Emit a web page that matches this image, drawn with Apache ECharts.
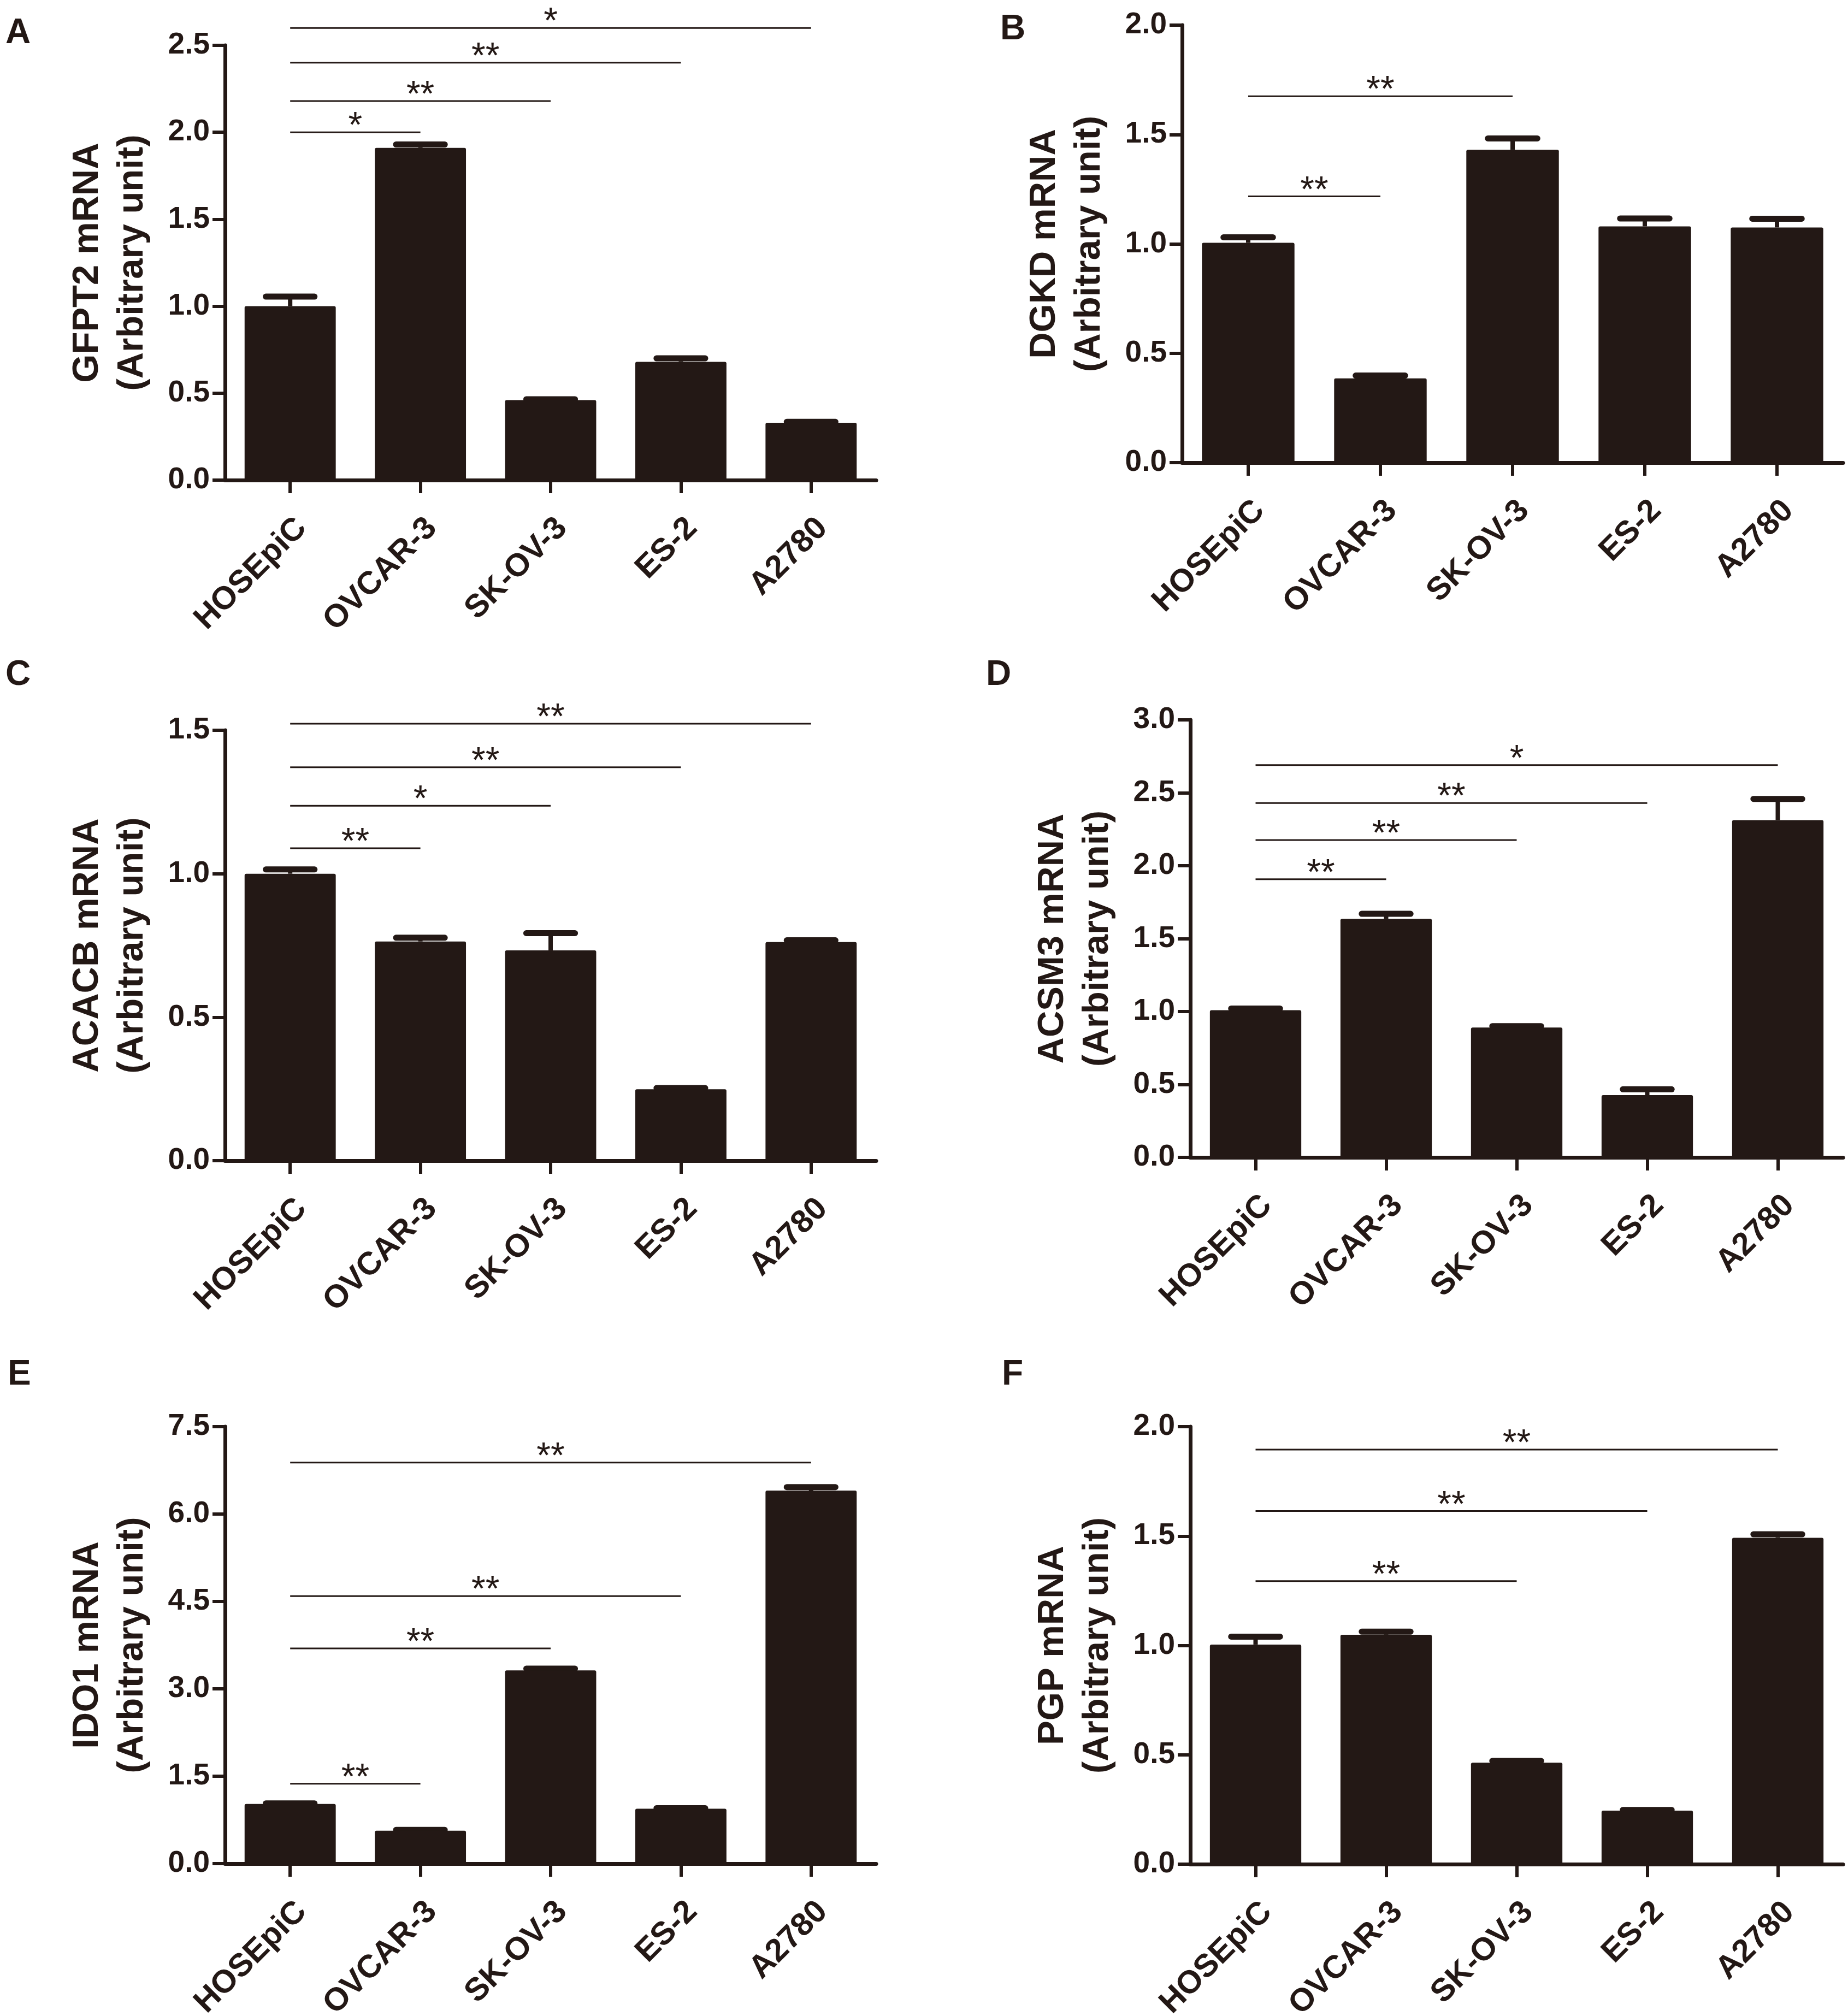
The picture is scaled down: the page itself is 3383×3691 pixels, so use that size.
<!DOCTYPE html>
<html>
<head>
<meta charset="utf-8">
<title>mRNA levels in ovarian cell lines</title>
<script src="https://cdn.jsdelivr.net/npm/echarts@6.0.0/dist/echarts.min.js"></script>
<style>
  html, body { margin: 0; padding: 0; background: #fff; }
  #chart { width: 3383px; height: 3691px; }
</style>
</head>
<body>
<div id="chart"></div>
<script>
var categories = ['HOSEpiC', 'OVCAR-3', 'SK-OV-3', 'ES-2', 'A2780'];

// A - GFPT2
var gfpt2Mean = [1.00, 1.91, 0.46, 0.68, 0.33];
var gfpt2Sem = [0.055, 0.02, 0.005, 0.02, 0.005];
var gfpt2Sig = [[0, 1, 2.00, '*'], [0, 2, 2.18, '**'], [0, 3, 2.40, '**'], [0, 4, 2.60, '*']];
var gfpt2Axis = [0, 2.5, 0.5];

// B - DGKD
var dgkdMean = [1.005, 0.385, 1.43, 1.08, 1.075];
var dgkdSem = [0.025, 0.013, 0.052, 0.036, 0.04];
var dgkdSig = [[0, 1, 1.217, '**'], [0, 2, 1.675, '**']];
var dgkdAxis = [0, 2.0, 0.5];

// C - ACACB
var acacbMean = [1.00, 0.764, 0.733, 0.249, 0.762];
var acacbSem = [0.015, 0.013, 0.06, 0.004, 0.006];
var acacbSig = [[0, 1, 1.089, '**'], [0, 2, 1.237, '*'], [0, 3, 1.371, '**'], [0, 4, 1.523, '**']];
var acacbAxis = [0, 1.5, 0.5];

// D - ACSM3
var acsm3Mean = [1.009, 1.636, 0.89, 0.427, 2.313];
var acsm3Sem = [0.012, 0.034, 0.01, 0.04, 0.145];
var acsm3Sig = [[0, 1, 1.907, '**'], [0, 2, 2.176, '**'], [0, 3, 2.43, '**'], [0, 4, 2.69, '*']];
var acsm3Axis = [0, 3.0, 0.5];

// E - IDO1
var ido1Mean = [1.024, 0.564, 3.316, 0.942, 6.402];
var ido1Sem = [0.01, 0.015, 0.03, 0.01, 0.06];
var ido1Sig = [[0, 1, 1.372, '**'], [0, 2, 3.694, '**'], [0, 3, 4.592, '**'], [0, 4, 6.884, '**']];
var ido1Axis = [0, 7.5, 1.5];

// F - PGP
var pgpMean = [1.004, 1.049, 0.464, 0.245, 1.492];
var pgpSem = [0.036, 0.014, 0.008, 0.003, 0.016];
var pgpSig = [[0, 2, 1.294, '**'], [0, 3, 1.614, '**'], [0, 4, 1.895, '**']];
var pgpAxis = [0, 2.0, 0.5];

var panels = [
  { letter: 'A', gene: 'GFPT2', mean: gfpt2Mean, sem: gfpt2Sem, sig: gfpt2Sig, axis: gfpt2Axis },
  { letter: 'B', gene: 'DGKD', mean: dgkdMean, sem: dgkdSem, sig: dgkdSig, axis: dgkdAxis },
  { letter: 'C', gene: 'ACACB', mean: acacbMean, sem: acacbSem, sig: acacbSig, axis: acacbAxis },
  { letter: 'D', gene: 'ACSM3', mean: acsm3Mean, sem: acsm3Sem, sig: acsm3Sig, axis: acsm3Axis },
  { letter: 'E', gene: 'IDO1', mean: ido1Mean, sem: ido1Sem, sig: ido1Sig, axis: ido1Axis },
  { letter: 'F', gene: 'PGP', mean: pgpMean, sem: pgpSem, sig: pgpSig, axis: pgpAxis }
];

// page layout of each panel (pixels)
var layouts = [
  { lx: 10, ly: 29, left: 412, top: 83, width: 1192, height: 796 },
  { lx: 1831, ly: 22, left: 2164, top: 46, width: 1210, height: 801 },
  { lx: 10, ly: 1204, left: 412, top: 1337, width: 1192, height: 788 },
  { lx: 1805, ly: 1204, left: 2179, top: 1318, width: 1195, height: 801 },
  { lx: 14, ly: 2485, left: 412, top: 2612, width: 1192, height: 800 },
  { lx: 1834, ly: 2485, left: 2179, top: 2612, width: 1195, height: 801 }
];

var ink = '#231815';
var font = "'Liberation Sans', Arial, Helvetica, sans-serif";

var chart = echarts.init(document.getElementById('chart'));

var titles = [], grids = [], xAxes = [], yAxes = [], series = [];

panels.forEach(function (p, i) {
  var l = layouts[i];
  titles.push({
    text: p.letter, left: l.lx, top: l.ly, padding: 0,
    textStyle: { fontSize: 64, fontWeight: 'bold', fontFamily: font, color: ink }
  });
  grids.push({ left: l.left, top: l.top, width: l.width, height: l.height, outerBoundsMode: 'none' });
  xAxes.push({
    type: 'category', gridIndex: i, data: categories,
    axisLine: { show: true, lineStyle: { color: ink, width: 7 } },
    axisTick: { show: true, alignWithLabel: true, length: 24, lineStyle: { color: ink, width: 6 } },
    axisLabel: {
      interval: 0, rotate: 45, margin: 58, verticalAlign: 'top',
      fontSize: 59, fontWeight: 'bold', fontFamily: font, color: ink
    },
    splitLine: { show: false }
  });
  yAxes.push({
    type: 'value', gridIndex: i, min: p.axis[0], max: p.axis[1], interval: p.axis[2],
    name: p.gene + ' mRNA\n(Arbitrary unit)', nameLocation: 'middle', nameRotate: 90, nameGap: 128,
    nameTextStyle: { fontSize: 67, fontWeight: 'bold', fontFamily: font, color: ink, lineHeight: 82 },
    axisLine: { show: true, lineStyle: { color: ink, width: 7 } },
    axisTick: { show: true, length: 23, lineStyle: { color: ink, width: 6 } },
    axisLabel: {
      margin: 28, fontSize: 55, fontWeight: 'bold', fontFamily: font, color: ink,
      formatter: function (v) { return v.toFixed(1); }
    },
    splitLine: { show: false }
  });

  series.push({
    type: 'bar', xAxisIndex: i, yAxisIndex: i, data: p.mean, barWidth: '70%',
    itemStyle: { color: ink, borderRadius: 3 }, silent: true
  });

  series.push({
    type: 'custom', xAxisIndex: i, yAxisIndex: i, silent: true,
    data: p.mean.map(function (m, k) { return [k, m, m + p.sem[k]]; }),
    encode: { x: 0, y: [1, 2] },
    renderItem: function (params, api) {
      var base = api.coord([api.value(0), api.value(1)]);
      var top = api.coord([api.value(0), api.value(2)]);
      var half = api.size([1, 0])[0] * 0.187;
      return {
        type: 'group',
        children: [
          { type: 'line', shape: { x1: base[0], y1: base[1], x2: top[0], y2: top[1] },
            style: { stroke: ink, lineWidth: 8 } },
          { type: 'line', shape: { x1: top[0] - half, y1: top[1], x2: top[0] + half, y2: top[1] },
            style: { stroke: ink, lineWidth: 11, lineCap: 'round' } }
        ]
      };
    }
  });

  series.push({
    type: 'custom', xAxisIndex: i, yAxisIndex: i, silent: true, clip: false,
    data: p.sig.map(function (s) { return [s[0], s[1], s[2]]; }),
    encode: { x: [0, 1], y: 2 },
    renderItem: function (params, api) {
      var a = api.coord([api.value(0), api.value(2)]);
      var b = api.coord([api.value(1), api.value(2)]);
      var label = p.sig[params.dataIndex][3];
      return {
        type: 'group',
        children: [
          { type: 'line', shape: { x1: a[0], y1: a[1], x2: b[0], y2: b[1] },
            style: { stroke: ink, lineWidth: 3 } },
          { type: 'text',
            style: { text: label, x: (a[0] + b[0]) / 2, y: a[1] - 9, align: 'center', verticalAlign: 'middle',
                     fill: ink, fontSize: 66, fontFamily: font } }
        ]
      };
    }
  });
});

chart.setOption({
  animation: false,
  backgroundColor: '#fff',
  title: titles,
  grid: grids,
  xAxis: xAxes,
  yAxis: yAxes,
  series: series
});
</script>
</body>
</html>
